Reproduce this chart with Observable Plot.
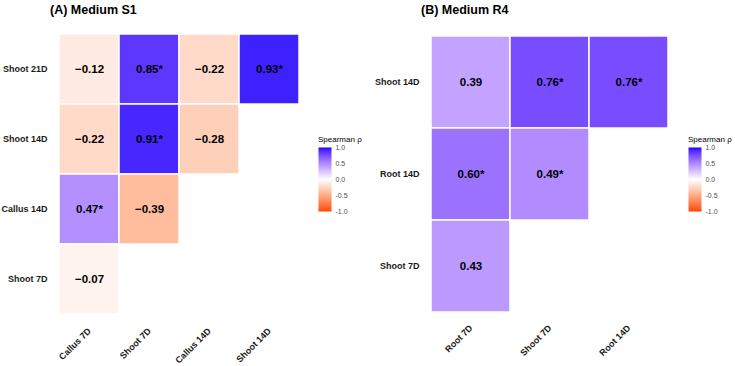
<!DOCTYPE html>
<html>
<head>
<meta charset="utf-8">
<script src="https://cdn.jsdelivr.net/npm/d3@7"></script>
<script src="https://cdn.jsdelivr.net/npm/@observablehq/plot@0.6"></script>
<style>
  html, body { margin: 0; padding: 0; background: #fff; }
  #root { position: relative; width: 735px; height: 366px; overflow: hidden;
          font-family: "Liberation Sans", Arial, Helvetica, sans-serif; }
  .abs { position: absolute; }
  .title { font-weight: bold; font-size: 12.5px; line-height: 13px; color: #000; white-space: nowrap; }
  .ltitle { font-size: 8px; line-height: 8px; color: #000; white-space: nowrap; }
  svg { overflow: visible; }
</style>
</head>
<body>
<div id="root"></div>
<script>
// Medium S1: lower-triangle Spearman correlations between tissues/time points
const s1Rows = ["Shoot 21D", "Shoot 14D", "Callus 14D", "Shoot 7D"];
const s1Cols = ["Callus 7D", "Shoot 7D", "Callus 14D", "Shoot 14D"];
const s1CellRow = ["Shoot 21D", "Shoot 21D", "Shoot 21D", "Shoot 21D", "Shoot 14D", "Shoot 14D", "Shoot 14D", "Callus 14D", "Callus 14D", "Shoot 7D"];
const s1CellCol = ["Callus 7D", "Shoot 7D", "Callus 14D", "Shoot 14D", "Callus 7D", "Shoot 7D", "Callus 14D", "Callus 7D", "Shoot 7D", "Callus 7D"];
const s1Rho = [-0.12, 0.85, -0.22, 0.93, -0.22, 0.91, -0.28, 0.47, -0.39, -0.07];
const s1Sig = [false, true, false, true, false, true, false, true, false, false];

// Medium R4
const r4Rows = ["Shoot 14D", "Root 14D", "Shoot 7D"];
const r4Cols = ["Root 7D", "Shoot 7D", "Root 14D"];
const r4CellRow = ["Shoot 14D", "Shoot 14D", "Shoot 14D", "Root 14D", "Root 14D", "Shoot 7D"];
const r4CellCol = ["Root 7D", "Shoot 7D", "Root 14D", "Root 7D", "Shoot 7D", "Root 7D"];
const r4Rho = [0.39, 0.76, 0.76, 0.60, 0.49, 0.43];
const r4Sig = [false, true, true, true, true, false];

const legendTicks = [1, 0.5, 0, -0.5, -1];

const colorScale = {
  type: "linear",
  domain: [-1, 0, 1],
  range: ["orangered", "white", "blue"],
  interpolate: "lab"
};

const fmt = d3.format(".2f");
const root = document.getElementById("root");

function place(el, left, top) {
  el.classList.add("abs");
  el.style.left = left + "px";
  el.style.top = top + "px";
  root.appendChild(el);
  return el;
}

function textDiv(cls, txt) {
  const d = document.createElement("div");
  d.className = cls;
  d.textContent = txt;
  return d;
}

function panel({rows, cols, cellRow, cellCol, rho, sig, width, marginLeft, marginRight, marginTop, marginBottom}) {
  const cells = rho.map((v, i) => ({row: cellRow[i], col: cellCol[i], rho: v, label: fmt(v) + (sig[i] ? "*" : "")}));
  return Plot.plot({
    width, height: 366,
    marginLeft, marginRight, marginTop, marginBottom,
    style: {fontFamily: '"Liberation Sans", Arial, sans-serif', background: "transparent"},
    x: {domain: cols, padding: 0, label: null},
    y: {domain: rows, padding: 0, label: null},
    color: colorScale,
    marks: [
      Plot.cell(cells, {x: "col", y: "row", fill: "rho", stroke: "white", strokeWidth: 1.5, inset: 0}),
      Plot.text(cells, {x: "col", y: "row", text: "label", fill: "black", fontSize: 11.5, fontWeight: "bold"}),
      Plot.axisX({anchor: "bottom", tickSize: 0, tickPadding: 14, tickRotate: -45, fontSize: 9, fontWeight: "bold", color: "#1a1a1a", label: null}),
      Plot.axisY({anchor: "left", tickSize: 0, tickPadding: 11, fontSize: 9, fontWeight: "bold", color: "#1a1a1a", label: null})
    ]
  });
}

function legend() {
  return Plot.plot({
    width: 13, height: 64,
    marginLeft: 0, marginRight: 0, marginTop: 0, marginBottom: 0,
    style: {fontFamily: '"Liberation Sans", Arial, sans-serif', background: "transparent", overflow: "visible"},
    x: {domain: [0, 1], axis: null},
    y: {domain: [-1, 1], label: null},
    color: colorScale,
    marks: [
      Plot.raster({x1: 0, x2: 1, y1: -1, y2: 1, width: 1, height: 128, fill: (x, y) => y, imageRendering: "auto"}),
      Plot.axisY(legendTicks, {anchor: "right", tickSize: 0, tickPadding: 4, fontSize: 7, color: "#4d4d4d", tickFormat: d => d.toFixed(1), label: null})
    ]
  });
}

// Panel A
place(panel({rows: s1Rows, cols: s1Cols, cellRow: s1CellRow, cellCol: s1CellCol, rho: s1Rho, sig: s1Sig,
  width: 310, marginLeft: 58, marginRight: 11, marginTop: 33, marginBottom: 51}), 0, 0);
place(textDiv("title", "(A) Medium S1"), 50, 4);
place(textDiv("ltitle", "Spearman ρ"), 318, 136);
place(legend(), 318, 147);

// Panel B
place(panel({rows: r4Rows, cols: r4Cols, cellRow: r4CellRow, cellCol: r4CellCol, rho: r4Rho, sig: r4Sig,
  width: 310, marginLeft: 60, marginRight: 12, marginTop: 35, marginBottom: 54}), 370, 0);
place(textDiv("title", "(B) Medium R4"), 421, 4);
place(textDiv("ltitle", "Spearman ρ"), 688, 136);
place(legend(), 688, 147);
</script>
</body>
</html>
